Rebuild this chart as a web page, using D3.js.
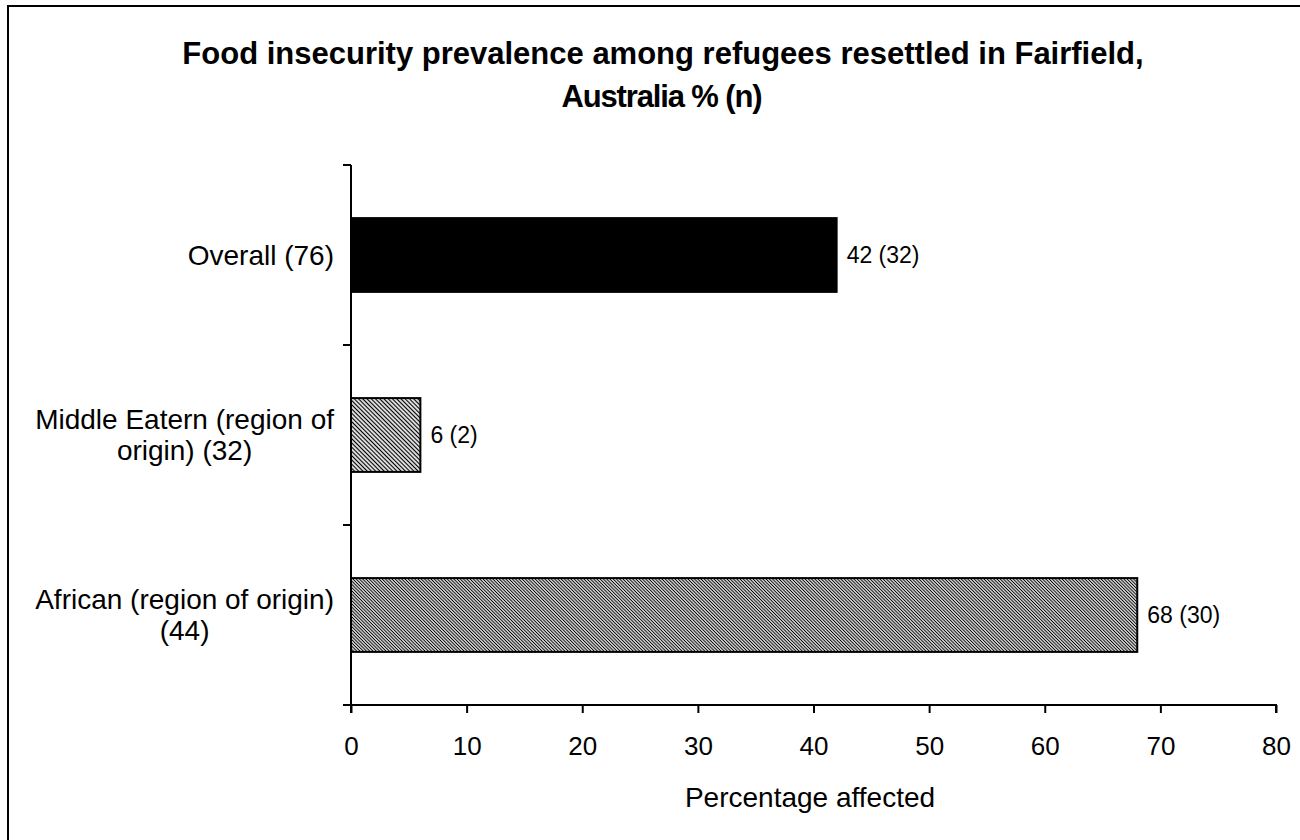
<!DOCTYPE html>
<html><head><meta charset="utf-8">
<script src="https://cdn.jsdelivr.net/npm/d3@7"></script>
<style>body{margin:0;background:#fff}svg{display:block}text{font-family:"Liberation Sans",Arial,sans-serif}</style>
</head><body><svg id="c" width="1300" height="840"></svg>
<script>
const categories = [["Overall (76)"], ["Middle Eatern (region of", "origin) (32)"], ["African (region of origin)", "(44)"]];
const values = [42, 6, 68];
const valueLabels = ["42 (32)", "6 (2)", "68 (30)"];
const fills = ["solid", "hatchSparse", "hatchDense"];
const xTicks = [0, 10, 20, 30, 40, 50, 60, 70, 80];
const title = ["Food insecurity prevalence among refugees resettled in Fairfield,", "Australia % (n)"];
const xTitle = "Percentage affected";

const svg = d3.select("#c");
svg.append("rect").attr("x", 8).attr("y", 6).attr("width", 1300).attr("height", 840)
  .attr("fill", "none").attr("stroke", "#000").attr("stroke-width", 2);

const defs = svg.append("defs");
function hatch(id, sp, sw) {
  const p = defs.append("pattern").attr("id", id).attr("patternUnits", "userSpaceOnUse")
    .attr("width", sp).attr("height", sp).attr("patternTransform", "rotate(45)");
  p.append("rect").attr("width", sp).attr("height", sp).attr("fill", "#fff");
  p.append("line").attr("x1", 0).attr("y1", sp / 2).attr("x2", sp).attr("y2", sp / 2)
    .attr("stroke", "#000").attr("stroke-width", sw);
}
hatch("hatchSparse", 3.0, 1.3);
hatch("hatchDense", 2.3, 1.1);

const x = d3.scaleLinear().domain([0, 80]).range([351, 1276]);
const idx = d3.range(categories.length);
const yTop = 165, yBot = 705;
const y = d3.scaleBand().domain(idx).range([yTop, yBot]).paddingInner(0.59).paddingOuter(0.295);

// bars
svg.selectAll("rect.bar").data(idx).enter().append("rect").attr("class", "bar")
  .attr("x", x(0)).attr("y", i => y(i)).attr("width", i => x(values[i]) - x(0))
  .attr("height", y.bandwidth())
  .attr("fill", i => fills[i] === "solid" ? "#000" : `url(#${fills[i]})`)
  .attr("stroke", "#000").attr("stroke-width", 2);

// value labels
svg.selectAll("text.val").data(idx).enter().append("text")
  .attr("x", i => x(values[i]) + 10).attr("y", i => y(i) + y.bandwidth() / 2)
  .attr("dy", "0.35em").attr("font-size", 23).text(i => valueLabels[i]);

// x axis
const xAxis = svg.append("g").attr("transform", `translate(0,${yBot})`)
  .call(d3.axisBottom(x).tickValues(xTicks).tickSize(8).tickPadding(24).tickFormat(d3.format("d")));
xAxis.select(".domain").attr("d", `M${x(0)},8V0H${x(80)}V8`).attr("stroke-width", 2);
xAxis.selectAll(".tick line").attr("stroke-width", 2);
xAxis.selectAll("text").attr("font-size", 26).attr("font-family", "Liberation Sans, Arial, sans-serif");

// y axis
const yAxisG = svg.append("g");
yAxisG.append("line").attr("x1", x(0)).attr("x2", x(0)).attr("y1", yTop).attr("y2", yBot)
  .attr("stroke", "#000").attr("stroke-width", 2);
const boundaries = d3.range(categories.length + 1).map(k => yTop + k * y.step());
yAxisG.selectAll("line.t").data(boundaries).enter().append("line")
  .attr("x1", x(0) - 8).attr("x2", x(0)).attr("y1", d => d).attr("y2", d => d)
  .attr("stroke", "#000").attr("stroke-width", 2);

// category labels: block right-aligned, lines centered within block
idx.forEach(i => {
  const lines = categories[i];
  const cy = y(i) + y.bandwidth() / 2;
  const t = svg.append("text").attr("text-anchor", "middle").attr("font-size", 28);
  const spans = lines.map((l, k) => t.append("tspan")
    .attr("y", cy + (k - (lines.length - 1) / 2) * 31).attr("dy", "0.35em").text(l));
  const maxW = d3.max(spans, s => s.node().getComputedTextLength());
  const cx = 334 - maxW / 2;
  spans.forEach(s => s.attr("x", cx));
});

// title
svg.append("text").attr("x", 663).attr("y", 64).attr("text-anchor", "middle")
  .attr("font-size", 31).attr("font-weight", "bold").text(title[0]);
svg.append("text").attr("x", 662).attr("y", 107).attr("text-anchor", "middle")
  .attr("font-size", 31).attr("font-weight", "bold")
  .attr("textLength", 201).attr("lengthAdjust", "spacing").text(title[1]);

// x title
svg.append("text").attr("x", 810).attr("y", 807).attr("text-anchor", "middle")
  .attr("font-size", 28).text(xTitle);
</script></body></html>
